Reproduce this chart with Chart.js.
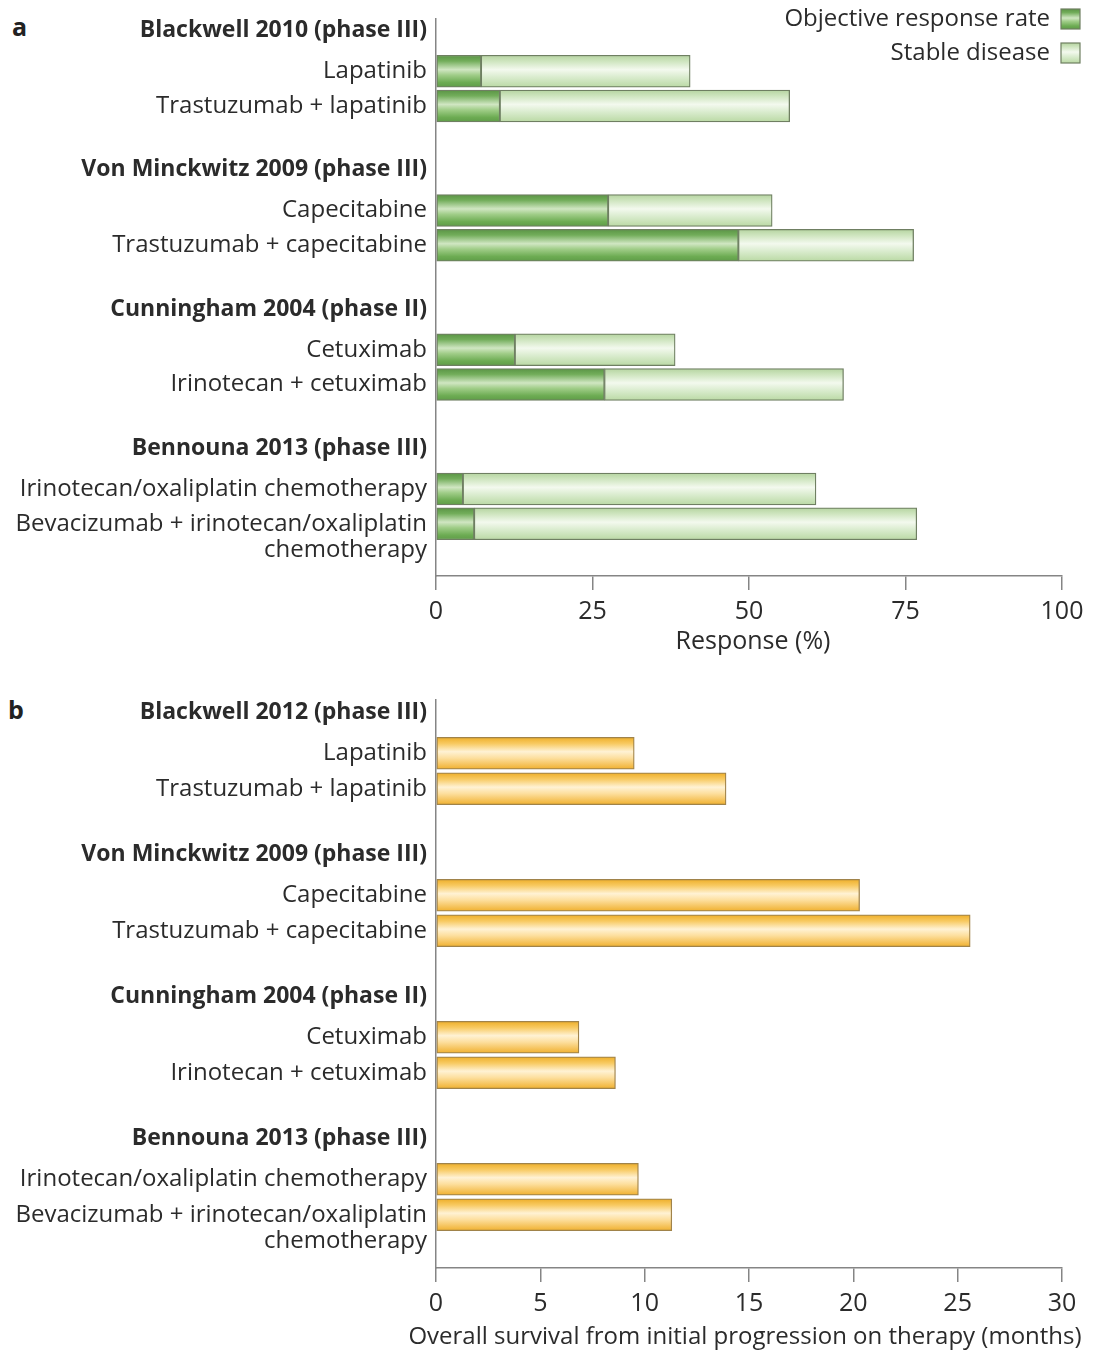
<!DOCTYPE html>
<html>
<head>
<meta charset="utf-8">
<script src="https://cdn.jsdelivr.net/npm/chart.js@4"></script>
<style>
  body { margin: 0; background: #fff; }
  #wrap { position: relative; width: 1098px; height: 1355px; }
  #wrap canvas { position: absolute; left: 0; }
  .panel { position: absolute; font-family: 'Open Sans', sans-serif; font-weight: bold; font-size: 25px; color: #222; }
</style>
</head>
<body>
<div id="wrap">
  <div class="panel" style="left:12px;top:9px">a</div>
  <canvas id="chartA" width="1098" height="668" style="top:0"></canvas>
  <div class="panel" style="left:8px;top:692px">b</div>
  <canvas id="chartB" width="1098" height="667" style="top:688px"></canvas>
</div>
<script>
// categories (header rows, treatment rows and blank spacer rows)
const labelsA = ['Blackwell 2010 (phase III)', 'Lapatinib', 'Trastuzumab + lapatinib', '',
  'Von Minckwitz 2009 (phase III)', 'Capecitabine', 'Trastuzumab + capecitabine', '',
  'Cunningham 2004 (phase II)', 'Cetuximab', 'Irinotecan + cetuximab', '',
  'Bennouna 2013 (phase III)', 'Irinotecan/oxaliplatin chemotherapy', ['Bevacizumab + irinotecan/oxaliplatin', 'chemotherapy'], ''];
const labelsB = ['Blackwell 2012 (phase III)', 'Lapatinib', 'Trastuzumab + lapatinib', '',
  'Von Minckwitz 2009 (phase III)', 'Capecitabine', 'Trastuzumab + capecitabine', '',
  'Cunningham 2004 (phase II)', 'Cetuximab', 'Irinotecan + cetuximab', '',
  'Bennouna 2013 (phase III)', 'Irinotecan/oxaliplatin chemotherapy', ['Bevacizumab + irinotecan/oxaliplatin', 'chemotherapy'], ''];
const headerRows = [0, 4, 8, 12];

// panel a: response (%)
const objectiveResponse = [null, 7.2, 10.2, null, null, 27.5, 48.3, null, null, 12.6, 26.9, null, null, 4.3, 6.1, null];
const stableDisease     = [null, 33.4, 46.3, null, null, 26.2, 28.0, null, null, 25.6, 38.2, null, null, 56.4, 70.7, null];

// panel b: overall survival (months)
const overallSurvival = [null, 9.5, 13.9, null, null, 20.3, 25.6, null, null, 6.85, 8.6, null, null, 9.7, 11.3, null];

const FONT = "'Open Sans', sans-serif";
const TXT = '#2b2b2b';
const AXIS = '#858585';

function barGradient(stops) {
  return function(ctx) {
    const chart = ctx.chart;
    const ys = chart.scales.y;
    if (!ys || ctx.type !== 'data') return stops[2][1];
    const y = ys.getPixelForValue(ctx.dataIndex);
    if (!isFinite(y)) return stops[2][1];
    const g = chart.ctx.createLinearGradient(0, y - 16, 0, y + 16);
    stops.forEach(s => g.addColorStop(s[0], s[1]));
    return g;
  };
}

const darkGreen = [[0, '#5a9445'], [0.18, '#72ad5a'], [0.45, '#d0e6c2'], [0.62, '#a0cd88'], [0.85, '#6dac53'], [1, '#5f9c48']];
const lightGreen = [[0, '#b5d4a0'], [0.2, '#d0e6c1'], [0.45, '#f3f9ee'], [0.7, '#d8ebcc'], [1, '#bad9a4']];
const yellow = [[0, '#eeae28'], [0.2, '#f8ca62'], [0.45, '#fff2d4'], [0.65, '#fddf9e'], [1, '#f0b02e']];

function yScale(labels) {
  return {
    type: 'category',
    labels: labels,
    stacked: true,
    afterFit: s => { s.width = 436; s.paddingTop = 0; s.paddingBottom = 0; },
    grid: { display: false, drawTicks: false },
    border: { display: true, color: AXIS, width: 1.5 },
    ticks: {
      padding: 9,
      color: TXT,
      autoSkip: false,
      callback: function(v, i) {
        const l = labels[i];
        if (Array.isArray(l)) return [''].concat(l);
        // headers sit a little above their row
        return headerRows.includes(i) ? [l, ''] : l;
      },
      font: c => headerRows.includes(c.index)
        ? { family: FONT, size: 23, weight: 'bold', lineHeight: 0.5 }
        : { family: FONT, size: 24, weight: 'normal', lineHeight: 1.1 }
    }
  };
}

function xScale(max, step, height) {
  return {
    type: 'linear',
    min: 0, max: max,
    stacked: true,
    afterFit: s => { s.height = height; },
    grid: { drawOnChartArea: false, drawTicks: true, tickLength: 14, color: AXIS, lineWidth: 1.5 },
    border: { display: true, color: AXIS, width: 1.5 },
    ticks: { stepSize: step, padding: 7, color: TXT, font: { family: FONT, size: 25 } }
  };
}

// x axis title, drawn so it may run wider than the plot area
const axisTitle = {
  id: 'axisTitle',
  afterDraw(chart, args, opts) {
    const ctx = chart.ctx;
    const a = chart.chartArea;
    ctx.save();
    ctx.font = opts.size + 'px ' + FONT;
    ctx.fillStyle = TXT;
    ctx.textAlign = 'center';
    ctx.textBaseline = 'middle';
    ctx.fillText(opts.text, (a.left + a.right) / 2 + (opts.dx || 0), a.bottom + opts.offset);
    ctx.restore();
  }
};

// legend drawn at top right of panel a, box on the right of the text
const sideLegend = {
  id: 'sideLegend',
  afterDraw(chart) {
    const ctx = chart.ctx;
    const right = chart.chartArea.right;
    ctx.save();
    ctx.font = '24px ' + FONT;
    ctx.textAlign = 'right';
    ctx.textBaseline = 'middle';
    chart.data.datasets.forEach((ds, i) => {
      const cy = 19 + i * 34;
      ctx.fillStyle = TXT;
      ctx.fillText(ds.label, right - 12, cy);
      const g = ctx.createLinearGradient(0, cy - 10, 0, cy + 10);
      ds.stops.forEach(s => g.addColorStop(s[0], s[1]));
      ctx.fillStyle = g;
      ctx.fillRect(right - 1, cy - 10, 19, 20);
      ctx.strokeStyle = '#6f7f62';
      ctx.lineWidth = 1.2;
      ctx.strokeRect(right - 1, cy - 10, 19, 20);
    });
    ctx.restore();
  }
};

new Chart(document.getElementById('chartA'), {
  type: 'bar',
  data: {
    labels: labelsA,
    datasets: [
      { label: 'Objective response rate', data: objectiveResponse, stops: darkGreen, backgroundColor: barGradient(darkGreen), borderColor: '#6f7f62', borderWidth: 1.3, borderSkipped: false, barThickness: 32 },
      { label: 'Stable disease', data: stableDisease, stops: lightGreen, backgroundColor: barGradient(lightGreen), borderColor: '#6f7f62', borderWidth: 1.3, borderSkipped: false, barThickness: 32 }
    ]
  },
  options: {
    indexAxis: 'y',
    responsive: false,
    animation: false,
    layout: { padding: { left: 0, right: 36, top: 19, bottom: 0 } },
    plugins: {
      legend: { display: false }, tooltip: { enabled: false },
      axisTitle: { text: 'Response (%)', size: 25, offset: 66, dx: 4 }
    },
    scales: { y: yScale(labelsA), x: xScale(100, 25, 92) }
  },
  plugins: [sideLegend, axisTitle]
});

new Chart(document.getElementById('chartB'), {
  type: 'bar',
  data: {
    labels: labelsB,
    datasets: [
      { label: 'Overall survival', data: overallSurvival, backgroundColor: barGradient(yellow), borderColor: '#a0834a', borderWidth: 1.3, borderSkipped: false, barThickness: 32 }
    ]
  },
  options: {
    indexAxis: 'y',
    responsive: false,
    animation: false,
    layout: { padding: { left: 0, right: 36, top: 12, bottom: 0 } },
    plugins: {
      legend: { display: false }, tooltip: { enabled: false },
      axisTitle: { text: 'Overall survival from initial progression on therapy (months)', size: 24, offset: 69, dx: -4 }
    },
    scales: { y: yScale(labelsB), x: xScale(30, 5, 87) }
  },
  plugins: [axisTitle]
});
</script>
</body>
</html>
